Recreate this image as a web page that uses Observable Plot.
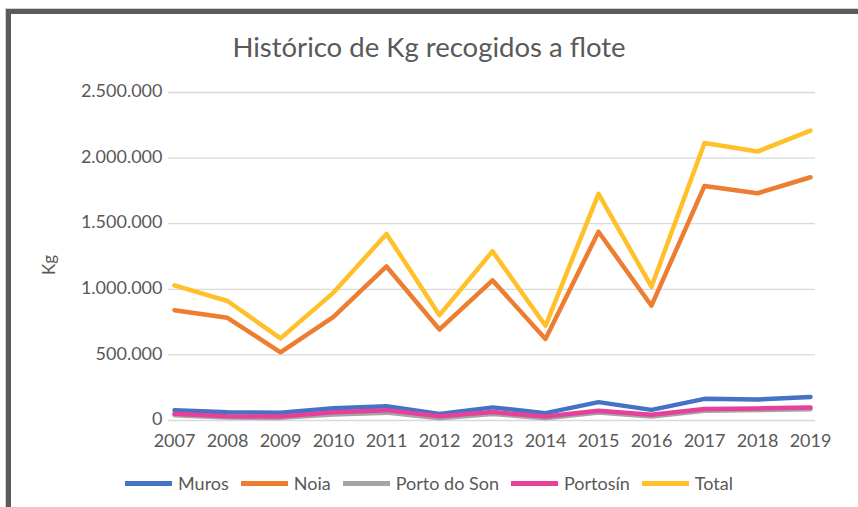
<!DOCTYPE html>
<html><head><meta charset="utf-8">
<script src="https://cdn.jsdelivr.net/npm/d3@7"></script>
<script src="https://cdn.jsdelivr.net/npm/@observablehq/plot@0.6"></script>
<style>
body{margin:0;background:#fff;font-family:Lato,"Open Sans",sans-serif;color:#595959;}
#wrap{position:relative;width:858px;height:507px;overflow:hidden;background:#fff;}
#frame{position:absolute;left:6px;top:9px;width:900px;height:600px;border:5px solid #5b5b5b;box-shadow:0 0 0 1px #d0d0d0;pointer-events:none;}
#title{height:43px;padding-top:32px;line-height:30px;font-size:27.5px;text-align:center;color:#595959;}
#chart{height:375px;}
#chart svg{display:block;}
#ylabel{position:absolute;left:48px;top:265px;transform:translate(-50%,-50%) rotate(-90deg);font-size:17px;color:#595959;}
#legend{height:57px;box-sizing:border-box;padding-top:9px;display:flex;justify-content:center;align-items:center;font-size:18px;line-height:20px;color:#595959;}
.item{display:flex;align-items:center;margin:0 6px;}
.swatch{width:47px;height:5px;margin-right:6px;}
</style>
</head><body>
<div id="wrap">
  <div id="title">Histórico de Kg recogidos a flote</div>
  <div id="chart"></div>
  <div id="ylabel">Kg</div>
  <div id="legend"></div>
  <div id="frame"></div>
</div>
<script>
const years = ["2007","2008","2009","2010","2011","2012","2013","2014","2015","2016","2017","2018","2019"];
const seriesNames = ["Muros","Noia","Porto do Son","Portosín","Total"];
const seriesColors = ["#4472C4","#ED7D31","#A5A5A5","#E5409A","#FFC02A"];
const muros      = [79000, 63000, 59000, 94000, 109000, 50000, 100000, 56000, 140000, 81000, 165000, 160000, 179000];
const noia       = [841000, 783000, 520000, 790000, 1174000, 694000, 1068000, 622000, 1439000, 875000, 1788000, 1732000, 1854000];
const portoDoSon = [40000, 22000, 20000, 45000, 60000, 18000, 50000, 18000, 60000, 30000, 75000, 80000, 85000];
const portosin   = [51000, 33000, 30000, 63000, 79000, 33000, 64000, 30000, 74000, 43000, 87000, 92000, 99000];
const total      = [1030000, 911000, 626000, 975000, 1422000, 803000, 1290000, 722000, 1727000, 1020000, 2115000, 2050000, 2210000];
const yTicks = [0, 500000, 1000000, 1500000, 2000000, 2500000];

const seriesValues = [muros, noia, portoDoSon, portosin, total];
const data = [];
seriesNames.forEach((name, i) => {
  years.forEach((y, j) => data.push({series: name, year: y, value: seriesValues[i][j]}));
});

const locale = d3.formatLocale({decimal: ",", thousands: ".", grouping: [3], currency: ["", "€"]});
const fmt = locale.format(",");

const plot = Plot.plot({
  width: 858,
  height: 375,
  marginLeft: 168,
  marginRight: 43,
  marginTop: 17,
  marginBottom: 30,
  style: {fontFamily: "Lato, 'Open Sans', sans-serif", fontSize: "18px", color: "#595959", background: "transparent"},
  x: {type: "point", domain: years, padding: 0},
  y: {domain: [0, 2500000]},
  color: {domain: seriesNames, range: seriesColors},
  marks: [
    Plot.gridY(yTicks, {stroke: "#d9d9d9", strokeOpacity: 1, strokeWidth: 1.3}),
    Plot.axisY(yTicks, {tickSize: 0, tickPadding: 6, tickFormat: fmt, label: null, dy: -1}),
    Plot.axisX({tickSize: 0, tickPadding: 14, label: null}),
    Plot.line(data, {x: "year", y: "value", z: "series", stroke: "series", strokeWidth: 4.5, strokeLinejoin: "round", strokeLinecap: "round"})
  ]
});
document.getElementById("chart").appendChild(plot);

const legend = document.getElementById("legend");
seriesNames.forEach((name, i) => {
  const item = document.createElement("div");
  item.className = "item";
  const sw = document.createElement("div");
  sw.className = "swatch";
  sw.style.background = seriesColors[i];
  const label = document.createElement("span");
  label.textContent = name;
  item.appendChild(sw);
  item.appendChild(label);
  legend.appendChild(item);
});
</script>
</body></html>
